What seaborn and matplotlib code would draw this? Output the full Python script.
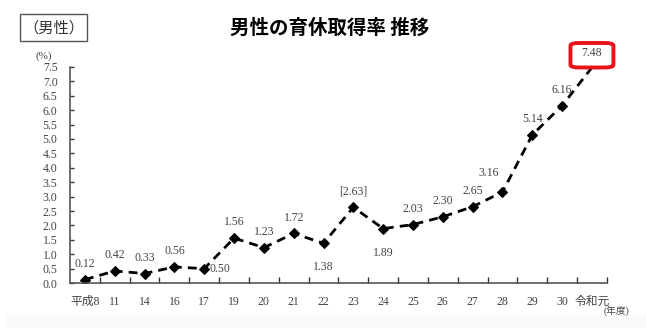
import matplotlib
matplotlib.use("Agg")
import matplotlib.pyplot as plt
from matplotlib.patches import FancyBboxPatch, Rectangle
import seaborn as sns
import numpy as np

years = ["平成8", "11", "14", "16", "17", "19", "20", "21", "22", "23",
         "24", "25", "26", "27", "28", "29", "30", "令和元"]
rates = [0.12, 0.42, 0.33, 0.56, 0.50, 1.56, 1.23, 1.72, 1.38, 2.63,
         1.89, 2.03, 2.30, 2.65, 3.16, 5.14, 6.16, 7.48]
point_labels = ["0.12", "0.42", "0.33", "0.56", "0.50", "1.56", "1.23", "1.72",
                "1.38", "[2.63]", "1.89", "2.03", "2.30", "2.65", "3.16",
                "5.14", "6.16", "7.48"]
yticks = [0.0, 0.5, 1.0, 1.5, 2.0, 2.5, 3.0, 3.5, 4.0, 4.5, 5.0, 5.5, 6.0,
          6.5, 7.0, 7.5]

title = "男性の育休取得率 推移"
tag = "（男性）"

sns.set_theme(style="white")
plt.rcParams["font.family"] = ["Liberation Serif", "Noto Sans CJK JP"]

fig = plt.figure(figsize=(6.46, 3.28), dpi=100)
fig.patch.set_facecolor("white")
# faint gray band at the bottom
fig.patches.append(Rectangle((0.01, 0.0), 0.99, 0.04, transform=fig.transFigure,
                             facecolor="#fafafa", edgecolor="none", zorder=0))

ax = fig.add_axes([0.1084, 0.137, 0.831, 0.659])
idx = np.arange(len(years))
sns.lineplot(x=idx, y=rates, ax=ax, color="black", linewidth=2.0,
             marker="D", markersize=5, markeredgecolor="black")
ax.lines[0].set_linestyle((0, (3.2, 2.2)))
ax.lines[0].set_markevery(list(range(len(years) - 1)))

ax.set_xlim(-0.5, len(years) - 0.5)
ax.set_ylim(0, 7.5)
ax.set_yticks(yticks)
ax.set_yticklabels([f"{v:.1f}" for v in yticks])
ax.set_xticks(idx)
ax.set_xticklabels(years)
ax.set_xticks(np.arange(len(years)) + 0.5, minor=True)
ax.tick_params(axis="x", which="major", length=0, pad=9, labelsize=8.5,
               labelcolor="#444444")
ax.tick_params(axis="x", which="minor", direction="in", length=4,
               width=1, color="#333333", bottom=True)
ax.tick_params(axis="y", direction="in", length=3, width=1, color="#333333",
               left=True, pad=9, labelsize=8.5, labelcolor="#444444")
for lab in ax.get_yticklabels():
    lab.set_horizontalalignment("right")

for s in ["top", "right"]:
    ax.spines[s].set_visible(False)
for s in ["left", "bottom"]:
    ax.spines[s].set_color("#555555")
    ax.spines[s].set_linewidth(1.2)
ax.set_xlabel("")
ax.set_ylabel("")
ax.grid(False)

# data labels (placement: offset in points)
offsets = {4: (4, 0, "left", "center"), 8: (0, -13, "center", "top"),
           10: (0, -13, "center", "top"), 14: (-10, 9, "center", "bottom")}
for i, (v, t) in enumerate(zip(rates, point_labels)):
    if i == len(rates) - 1:
        continue
    dx, dy, ha, va = offsets.get(i, (0, 7, "center", "bottom"))
    ax.annotate(t, (i, v), xytext=(dx, dy), textcoords="offset points",
                ha=ha, va=va, fontsize=8.5, color="#444444")

# highlighted last value in a red rounded box
last = len(rates) - 1
box = FancyBboxPatch((last - 0.72, rates[last] + 0.0), 1.44, 0.85,
                     boxstyle="round,pad=0,rounding_size=0.28",
                     mutation_aspect=1 / 3.0,
                     facecolor="white", edgecolor="#e8141c", linewidth=2.8,
                     zorder=5, clip_on=False, transform=ax.transData)
ax.add_patch(box)
ax.text(last, rates[last] + 0.5, point_labels[last], ha="center", va="center",
        fontsize=8.5, color="#444444", zorder=6)

fig.text(0.068, 0.828, "(%)", ha="center", va="center", fontsize=8,
         color="#444444")
fig.text(0.955, 0.052, "(年度)", ha="center", va="center", fontsize=7,
         color="#444444")

fig.text(0.51, 0.915, title, ha="center", va="center", fontsize=14,
         fontweight="bold", family=["Noto Sans CJK JP", "DejaVu Sans"],
         color="black")
fig.text(0.0835, 0.915, tag, ha="center", va="center", fontsize=11,
         family=["Noto Sans CJK JP", "DejaVu Sans"], color="#333333")
fig.patches.append(Rectangle((0.031, 0.875), 0.104, 0.082,
                             transform=fig.transFigure, facecolor="none",
                             edgecolor="#555555", linewidth=1.0))

fig.savefig("out.png", dpi=100)
